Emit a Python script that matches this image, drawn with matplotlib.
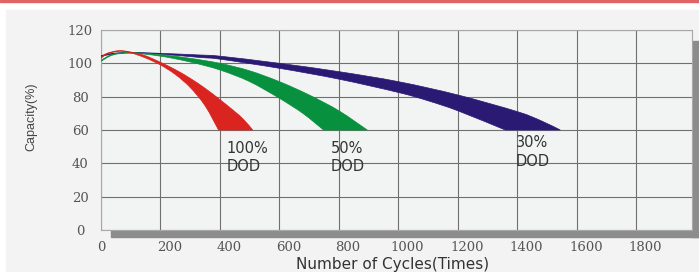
import matplotlib
matplotlib.use('Agg')
import matplotlib.pyplot as plt
import numpy as np
from matplotlib.patches import PathPatch, Rectangle
from matplotlib.path import Path
from matplotlib.transforms import ScaledTranslation

# cycles / capacity (outer edge and inner edge of each band)
red_out_x = [0, 20, 60, 100, 150, 200, 250, 300, 350, 400, 450, 480, 510]
red_out_y = [103.5, 106.0, 107.6, 106.8, 104.5, 100.6, 96.2, 91.0, 85.0, 78.2, 71.0, 66.2, 60]
red_in_x = [0, 20, 60, 100, 150, 200, 250, 300, 350, 395]
red_in_y = [103.0, 105.6, 107.2, 106.3, 103.2, 99.0, 93.3, 85.5, 74.5, 60]

green_out_x = [0, 40, 100, 200, 300, 400, 500, 600, 700, 800, 895]
green_out_y = [101.8, 105.5, 106.5, 105.2, 103.0, 100.0, 95.5, 89.0, 81.0, 71.5, 60]
green_in_x = [0, 40, 100, 200, 300, 400, 500, 600, 680, 748]
green_in_y = [101.2, 105.0, 106.2, 104.3, 100.8, 96.0, 89.0, 79.0, 69.8, 60]

blue_out_x = [0, 40, 100, 200, 333, 400, 600, 800, 1000, 1200, 1400, 1480, 1544]
blue_out_y = [104.6, 106.0, 106.5, 106.0, 105.0, 104.3, 100.0, 95.0, 89.0, 81.0, 71.0, 65.5, 60]
blue_in_x = [0, 40, 100, 200, 333, 400, 600, 800, 1000, 1100, 1200, 1359]
blue_in_y = [104.1, 105.6, 106.2, 105.5, 103.5, 102.5, 97.0, 90.5, 82.5, 77.5, 71.5, 60]

band_colors = ['#d9241f', '#07903d', '#2b1a74']
dod_labels = ['100%\nDOD', '50%\nDOD', '30%\nDOD']
dod_pos = [(423, 53.5), (773, 53.5), (1394, 57)]

x_ticks = [0, 200, 400, 600, 800, 1000, 1200, 1400, 1600, 1800]
y_ticks = [0, 20, 40, 60, 80, 100, 120]


def smooth(xs, ys):
    # catmull-rom through the read points -> cubic bezier pieces
    p = np.column_stack([xs, ys]).astype(float)
    p = np.vstack([p[0], p, p[-1]])
    verts = [p[1]]
    for i in range(1, len(p) - 2):
        c1 = p[i] + (p[i + 1] - p[i - 1]) / 6
        c2 = p[i + 1] - (p[i + 2] - p[i]) / 6
        verts += [c1, c2, p[i + 1]]
    return verts


def band_path(ox, oy, ix, iy):
    outer = smooth(ox, oy)
    inner = smooth(ix[::-1], iy[::-1])
    verts = outer + inner + [outer[0]]
    codes = ([Path.MOVETO] + [Path.CURVE4] * (len(outer) - 1) +
             [Path.LINETO] + [Path.CURVE4] * (len(inner) - 1) + [Path.CLOSEPOLY])
    return Path(verts, codes)


W, H = 699, 272
fig = plt.figure(figsize=(W / 100, H / 100), dpi=100)
fig.patch.set_facecolor('white')

# page decoration: red rule on top, grey panel, drop shadow of the chart
fig.patches.append(Rectangle((0, 1 - 2 / H), 1, 2 / H, transform=fig.transFigure,
                             color='#e06464', zorder=-2))
fig.patches.append(Rectangle((6 / W, 0), 1 - 6 / W, 1 - 10 / H, transform=fig.transFigure,
                             color='#f3f3f3', zorder=-2))
fig.patches.append(Rectangle((111 / W, 1 - 237 / H), 588 / W, 7 / H, transform=fig.transFigure,
                             color='#8c8c8c', zorder=-1))
fig.patches.append(Rectangle((691 / W, 1 - 237 / H), 8 / W, 196 / H, transform=fig.transFigure,
                             color='#8c8c8c', zorder=-1))

ax = fig.add_axes([101 / W, 1 - 230 / H, 590.5 / W, 200 / H])
ax.set_zorder(2)
ax.set_facecolor('#f2f4f4')

bands = [(red_out_x, red_out_y, red_in_x, red_in_y),
         (green_out_x, green_out_y, green_in_x, green_in_y),
         (blue_out_x, blue_out_y, blue_in_x, blue_in_y)]
# draw blue first so red sits on top near the start
for (ox, oy, ix, iy), c in reversed(list(zip(bands, band_colors))):
    ax.add_patch(PathPatch(band_path(ox, oy, ix, iy), fc=c, ec=c, lw=0.5, zorder=3))

for txt, (x, y) in zip(dod_labels, dod_pos):
    ax.text(x, y, txt, fontsize=10.5, color='#333333', va='top', ha='left',
            linespacing=1.3, zorder=4)

ax.set_xlim(0, 1985)
ax.set_ylim(0, 120)
ax.set_xticks(x_ticks)
ax.set_yticks(y_ticks)
ax.set_xticklabels([str(v) for v in x_ticks], family='DejaVu Serif', fontsize=9.5,
                   color='#555555')
ax.set_yticklabels([str(v) for v in y_ticks], family='DejaVu Serif', fontsize=9.5,
                   color='#555555', ha='center')
ax.tick_params(axis='both', length=0)
ax.tick_params(axis='y', pad=15)
ax.tick_params(axis='x', pad=8)
for lab in ax.get_xticklabels()[1:]:
    lab.set_transform(lab.get_transform() + ScaledTranslation(9 / 100, 0, fig.dpi_scale_trans))

ax.grid(True, color='#707070', lw=0.8)
ax.set_axisbelow(True)
for s in ax.spines.values():
    s.set_color('#a8a8a8')
    s.set_linewidth(0.8)

fig.text(31.5 / W, 1 - 116.5 / H, 'Capacity(%)', rotation=90, ha='center', va='center',
         fontsize=9, color='#444444', family='Liberation Sans')
fig.text(393 / W, 1 - 269 / H, 'Number of Cycles(Times)', ha='center', va='baseline',
         fontsize=11, color='#333333')

fig.savefig('out.png', dpi=100, facecolor=fig.get_facecolor())
